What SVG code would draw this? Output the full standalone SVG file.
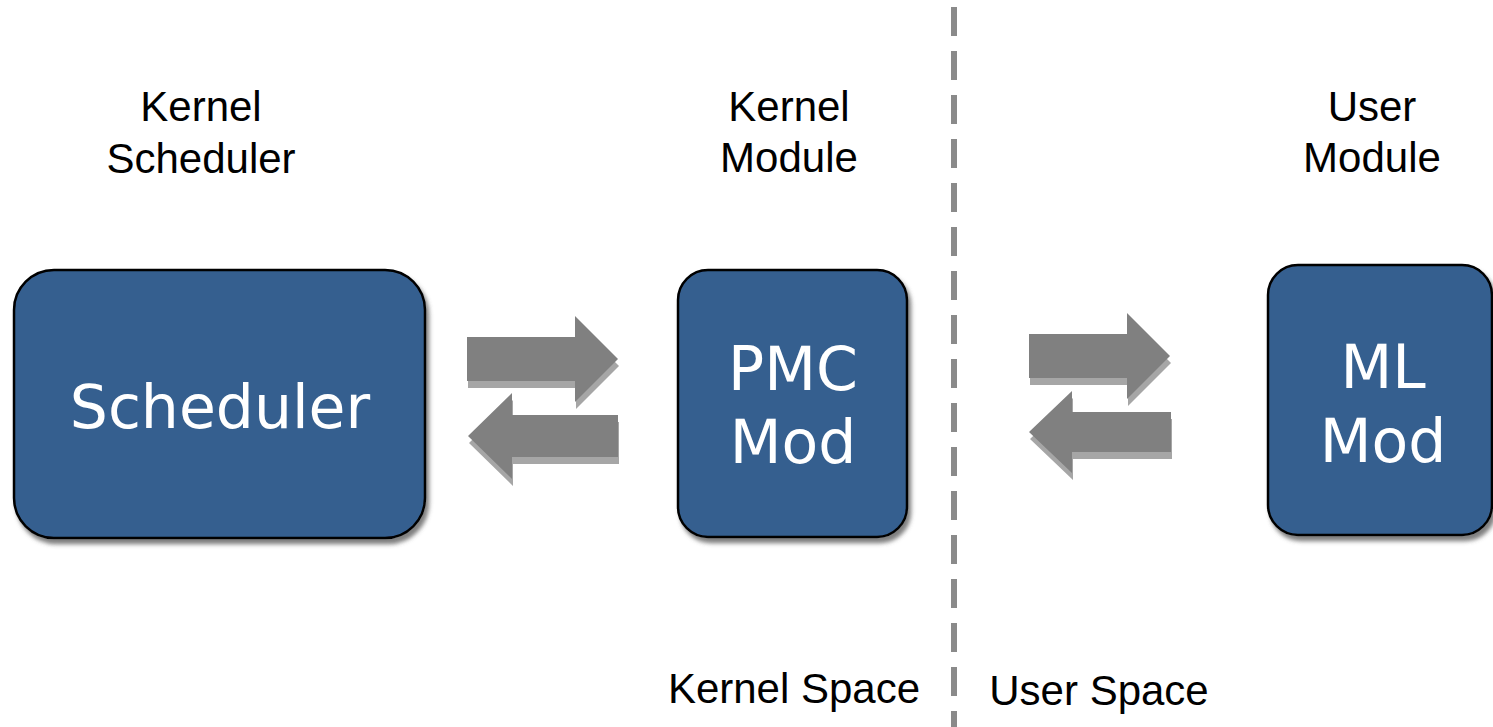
<svg xmlns="http://www.w3.org/2000/svg" width="1493" height="727" viewBox="0 0 1493 727">
<defs>
<filter id="sh" x="-10%" y="-10%" width="130%" height="130%">
<feDropShadow dx="3" dy="5" stdDeviation="2" flood-color="#555555" flood-opacity="0.75"/>
</filter>
</defs>
<style>
.box{fill:#365f8f;stroke:#000;stroke-width:2.5;filter:url(#sh)}
.bt{font-family:"DejaVu Sans",sans-serif;font-size:60px;fill:#fff;text-anchor:middle}
.lb{font-family:"Liberation Sans",Arial,sans-serif;font-size:42px;fill:#000;text-anchor:middle}
.ar{fill:#808080}
.as{fill:#a6a6a6}
.dash{stroke:#8a8a8a;stroke-width:6;stroke-dasharray:29 15;fill:none}
</style>
<rect width="1493" height="727" fill="#fff"/>
<g id="labels">
<text class="lb" x="201" y="121">Kernel</text>
<text class="lb" x="201" y="173">Scheduler</text>
<text class="lb" x="789" y="121">Kernel</text>
<text class="lb" x="789" y="172">Module</text>
<text class="lb" x="1372" y="121">User</text>
<text class="lb" x="1372" y="172">Module</text>
<text class="lb" x="794" y="703">Kernel Space</text>
<text class="lb" x="1099" y="705">User Space</text>
</g>
<g id="divider">
<line class="dash" x1="954" y1="7" x2="954" y2="727"/>
</g>
<g id="scheduler">
<rect class="box" x="14" y="270" width="411" height="268" rx="40"/>
<text class="bt" x="220" y="428">Scheduler</text>
</g>
<g id="pmc">
<rect class="box" x="678" y="270" width="229" height="267" rx="30"/>
<text class="bt" x="793" y="390">PMC</text>
<text class="bt" x="793" y="463">Mod</text>
</g>
<g id="ml">
<rect class="box" x="1268" y="265" width="224" height="270" rx="30"/>
<text class="bt" x="1383" y="388">ML</text>
<text class="bt" x="1383" y="462">Mod</text>
</g>
<g id="connectors">
<g transform="translate(1,7)" class="as">
<polygon points="467,337 575,337 575,316 618,359 575,402 575,381 467,381"/>
<polygon points="618,415 512,415 512,393 468,436 512,479 512,457 618,457"/>
<polygon points="1029,334 1127,334 1127,313 1170,356 1127,399 1127,378 1029,378"/>
<polygon points="1171,412 1072,412 1072,391 1029,432 1072,473 1072,452 1171,452"/>
</g>
<g class="ar">
<polygon points="467,337 575,337 575,316 618,359 575,402 575,381 467,381"/>
<polygon points="618,415 512,415 512,393 468,436 512,479 512,457 618,457"/>
<polygon points="1029,334 1127,334 1127,313 1170,356 1127,399 1127,378 1029,378"/>
<polygon points="1171,412 1072,412 1072,391 1029,432 1072,473 1072,452 1171,452"/>
</g>
</g>
</svg>
